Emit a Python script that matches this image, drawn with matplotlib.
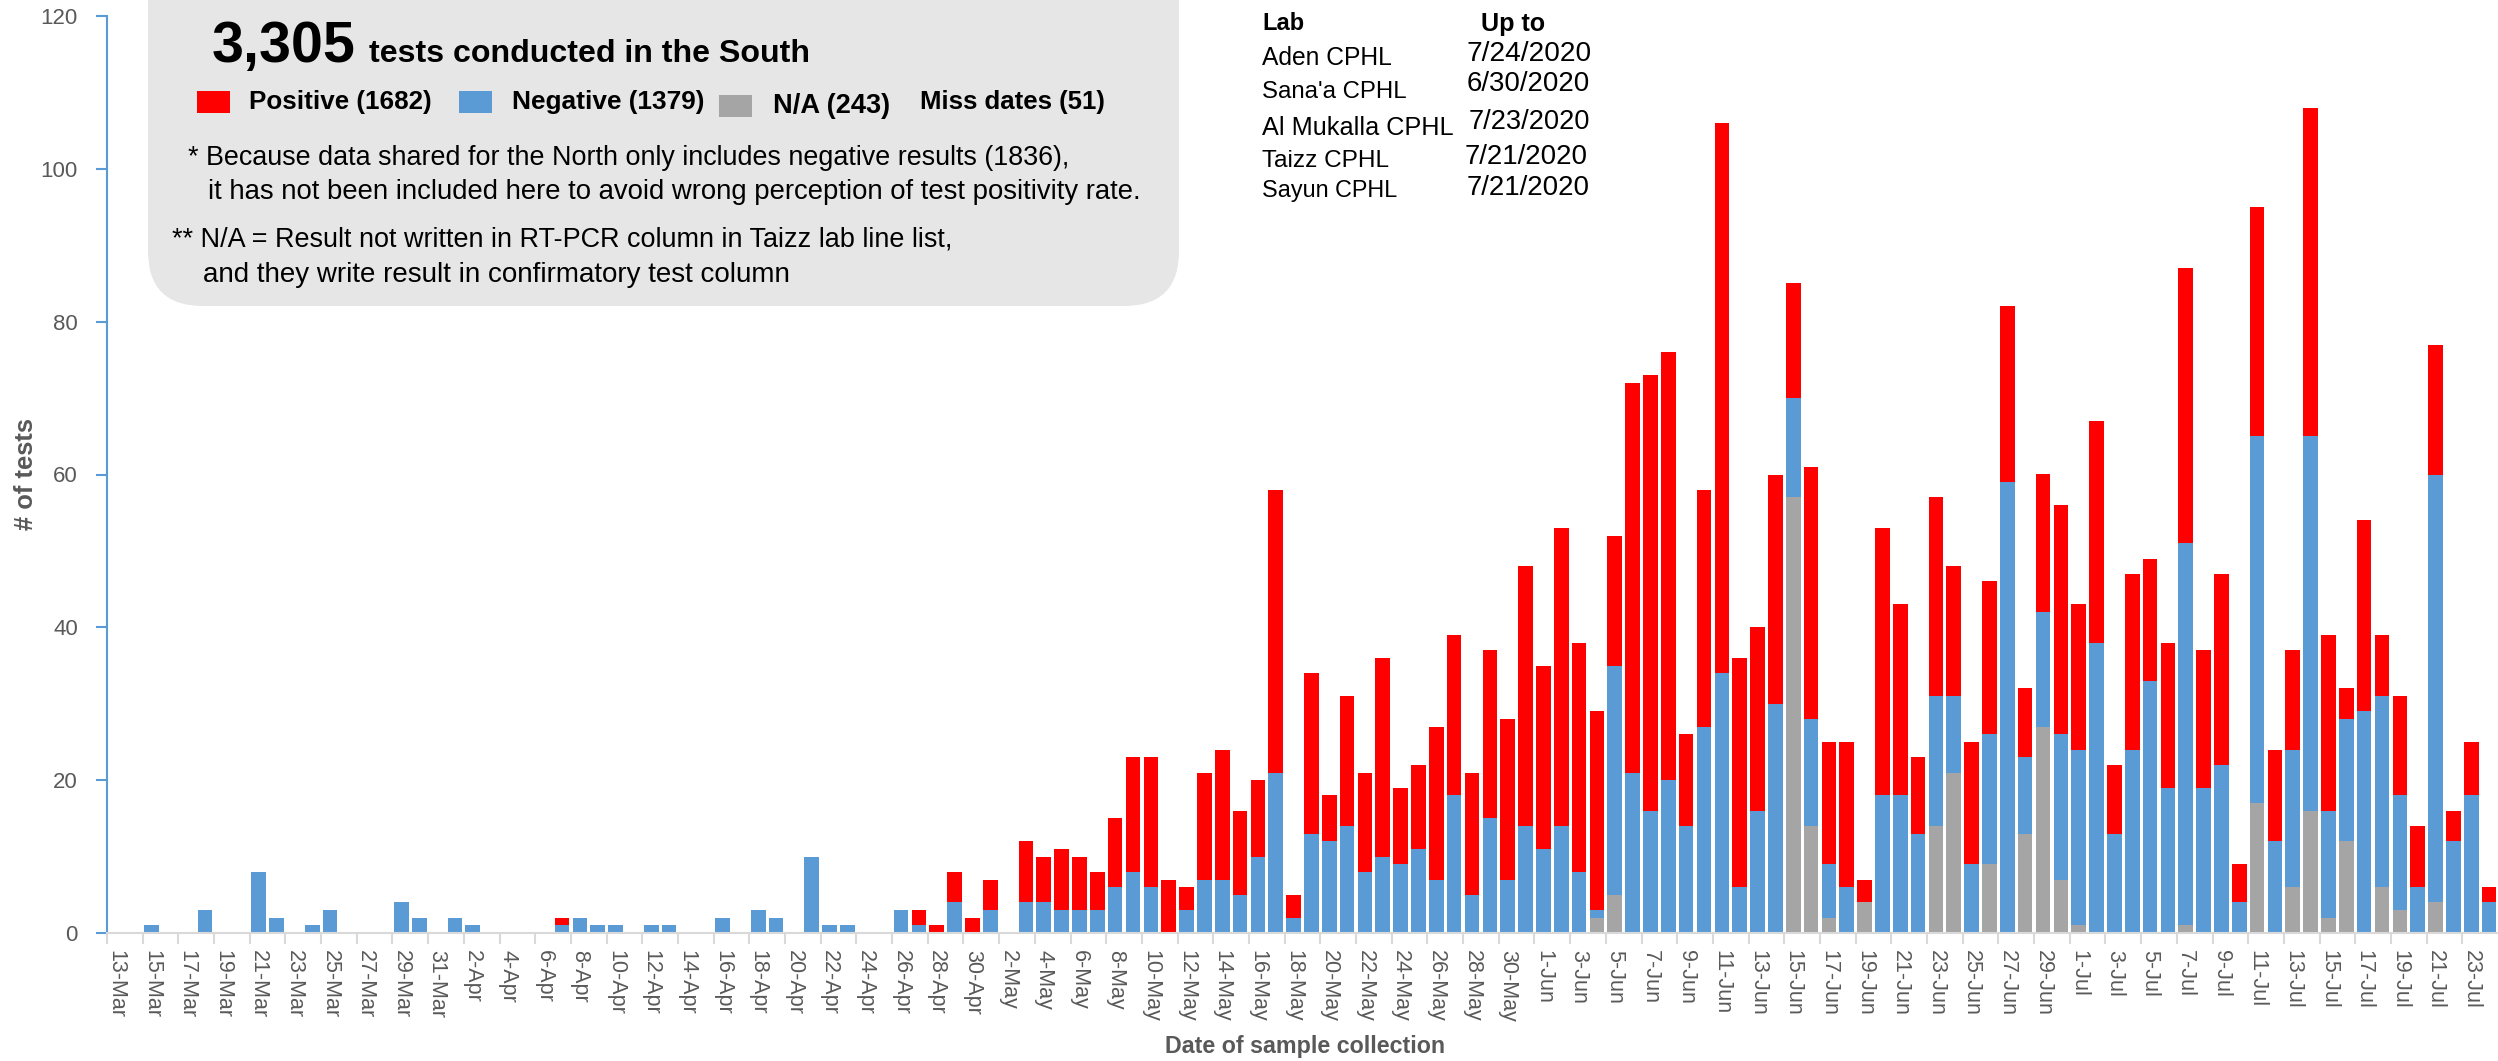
import numpy as np
import pandas as pd
import matplotlib
matplotlib.use("Agg")
import matplotlib.pyplot as plt
from matplotlib.patches import FancyBboxPatch, Rectangle
from matplotlib.transforms import IdentityTransform

plt.rcParams["font.family"] = ["Liberation Sans", "DejaVu Sans"]

W, H = 2498, 1061

# --- data: tests per day of sample collection ---
dates = pd.date_range("2020-03-13", "2020-07-24", freq="D")

neg_mar = [0, 0, 1, 0, 0, 3, 0, 0, 8, 2, 0, 1, 3, 0, 0, 0, 4, 2, 0]
pos_mar = [0, 0, 0, 0, 0, 0, 0, 0, 0, 0, 0, 0, 0, 0, 0, 0, 0, 0, 0]
na_mar = [0, 0, 0, 0, 0, 0, 0, 0, 0, 0, 0, 0, 0, 0, 0, 0, 0, 0, 0]

neg_apr = [2, 1, 0, 0, 0, 0, 1, 2, 1, 1, 0, 1, 1, 0, 0, 2, 0, 3, 2, 0,
           10, 1, 1, 0, 0, 3, 1, 0, 4, 0]
pos_apr = [0, 0, 0, 0, 0, 0, 1, 0, 0, 0, 0, 0, 0, 0, 0, 0, 0, 0, 0, 0,
           0, 0, 0, 0, 0, 0, 2, 1, 4, 2]
na_apr = [0, 0, 0, 0, 0, 0, 0, 0, 0, 0, 0, 0, 0, 0, 0, 0, 0, 0, 0, 0,
          0, 0, 0, 0, 0, 0, 0, 0, 0, 0]

neg_may = [3, 0, 4, 4, 3, 3, 3, 6, 8, 6, 0, 3, 7, 7, 5, 10, 21, 2, 13, 12,
           14, 8, 10, 9, 11, 7, 18, 5, 15, 7, 14]
pos_may = [4, 0, 8, 6, 8, 7, 5, 9, 15, 17, 7, 3, 14, 17, 11, 10, 37, 3, 21, 6,
           17, 13, 26, 10, 11, 20, 21, 16, 22, 21, 34]
na_may = [0, 0, 0, 0, 0, 0, 0, 0, 0, 0, 0, 0, 0, 0, 0, 0, 0, 0, 0, 0,
          0, 0, 0, 0, 0, 0, 0, 0, 0, 0, 0]

neg_jun = [11, 14, 8, 1, 30, 21, 16, 20, 14, 27, 34, 6, 16, 30, 13, 14, 7, 6, 0, 18,
           18, 13, 17, 10, 9, 17, 59, 10, 15, 19]
pos_jun = [24, 39, 30, 26, 17, 51, 57, 56, 12, 31, 72, 30, 24, 30, 15, 33, 16, 19, 3, 35,
           25, 10, 26, 17, 16, 20, 23, 9, 18, 30]
na_jun = [0, 0, 0, 2, 5, 0, 0, 0, 0, 0, 0, 0, 0, 0, 57, 14, 2, 0, 4, 0,
          0, 0, 14, 21, 0, 9, 0, 13, 27, 7]

neg_jul = [23, 38, 13, 24, 33, 19, 50, 19, 22, 4, 48, 12, 18, 49, 14, 16, 29, 25, 15, 6,
           56, 12, 18, 4]
pos_jul = [19, 29, 9, 23, 16, 19, 36, 18, 25, 5, 30, 12, 13, 43, 23, 4, 25, 8, 13, 8,
           17, 4, 7, 2]
na_jul = [1, 0, 0, 0, 0, 0, 1, 0, 0, 0, 17, 0, 6, 16, 2, 12, 0, 6, 3, 0,
          4, 0, 0, 0]

negative = np.array(neg_mar + neg_apr + neg_may + neg_jun + neg_jul)
positive = np.array(pos_mar + pos_apr + pos_may + pos_jun + pos_jul)
na = np.array(na_mar + na_apr + na_may + na_jun + na_jul)

labs = ["Aden CPHL", "Sana'a CPHL", "Al Mukalla CPHL", "Taizz CPHL", "Sayun CPHL"]
lab_dates = ["7/24/2020", "6/30/2020", "7/23/2020", "7/21/2020", "7/21/2020"]

RED, BLUE, GREY = "#FF0000", "#5B9BD5", "#A5A5A5"
TXT = "#595959"

def fx(x):
    return x / W

def fy(y):
    return 1 - y / H

fig = plt.figure(figsize=(W / 100, H / 100), dpi=100)
renderer = fig.canvas.get_renderer()

def fit(x0, y0, s, width, size=20, **kw):
    # place text at pixel position and scale its size to the width measured on the reference
    t = fig.text(fx(x0), fy(y0), s, fontsize=size, **kw)
    bb = t.get_window_extent(renderer)
    w = bb.height if kw.get("rotation") == 90 else bb.width
    t.set_fontsize(size * width / w)
    return t

ax = fig.add_axes([107 / W, (H - 933) / H, 1 - 107 / W, (933 - 16) / H])

x = np.arange(len(dates))
ax.bar(x, na, width=0.82, color=GREY)
ax.bar(x, negative, width=0.82, bottom=na, color=BLUE)
ax.bar(x, positive, width=0.82, bottom=na + negative, color=RED)

ax.set_xlim(-0.5, len(dates) - 0.5)
ax.set_ylim(0, 120)
ax.set_yticks(range(0, 121, 20))
ax.tick_params(axis="y", colors=BLUE, labelcolor=TXT, labelsize=16, length=8, width=1.5, pad=13)

ax.set_xticks(x[::2])
ax.set_xticklabels([f"{d.day}-{d.strftime('%b')}" for d in dates[::2]],
                   rotation=-90, color=TXT, fontsize=15.5)
ax.tick_params(axis="x", length=0, pad=12)
ax.set_xticks(x[::2] - 0.5, minor=True)
ax.tick_params(axis="x", which="minor", length=8, width=1.5, color="#D9D9D9")

for s in ["top", "right"]:
    ax.spines[s].set_visible(False)
ax.spines["left"].set_color(BLUE)
ax.spines["left"].set_linewidth(1.5)
ax.spines["bottom"].set_color("#D9D9D9")
ax.spines["bottom"].set_linewidth(1.5)

fit(1305, 1047, "Date of sample collection", 280, ha="center", va="center",
    fontweight="bold", color=TXT)
fit(26, 474, "# of tests", 112, ha="center", va="center", rotation=90,
    fontweight="bold", color=TXT)

# --- grey info box ---
box = FancyBboxPatch((148, H - 306), 1031, 360, boxstyle="round,pad=0,rounding_size=55",
                     transform=IdentityTransform(), facecolor="#E7E6E6", edgecolor="none")
fig.add_artist(box)

fit(212, 62, "3,305", 144, fontweight="bold", va="baseline")
fit(369, 62, "tests conducted in the South", 441, fontweight="bold", va="baseline")

for (x0, y0, c) in [(197, 91, RED), (459, 91, BLUE), (719, 95, GREY)]:
    fig.add_artist(Rectangle((x0, H - y0 - 22), 33, 22, transform=IdentityTransform(),
                             facecolor=c, edgecolor="none"))
for (x0, y0, t, w) in [(249, 102, "Positive (1682)", 182), (512, 102, "Negative (1379)", 192),
                       (773, 106, "N/A (243)", 117), (920, 102, "Miss dates (51)", 184)]:
    fit(x0, y0, t, w, fontweight="bold", va="center")

notes = [(188, 158, "* Because data shared for the North only includes negative results (1836),", 880),
         (208, 192, "it has not been included here to avoid wrong perception of test positivity rate.", 930),
         (172, 240, "** N/A = Result not written in RT-PCR column in Taizz lab line list,", 779),
         (203, 275, "and they write result in confirmatory test column", 586)]
for (x0, y0, t, w) in notes:
    fit(x0, y0, t, w, va="center")

# --- lab table ---
fit(1262, 24, "Lab", 42, fontweight="bold", va="center")
fit(1481, 24, "Up to", 64, fontweight="bold", va="center")
lab_y = [58, 92, 128, 161, 191]
lab_w = [130, 144, 191, 127, 135]
date_y = [54, 84, 122, 157, 188]
date_x = [1467, 1467, 1469, 1465, 1467]
date_w = [125, 123, 121, 123, 123]
for i in range(len(labs)):
    fit(1262, lab_y[i], labs[i], lab_w[i], va="center")
    fit(date_x[i], date_y[i], lab_dates[i], date_w[i], va="center")

fig.savefig("out.png", dpi=100)
